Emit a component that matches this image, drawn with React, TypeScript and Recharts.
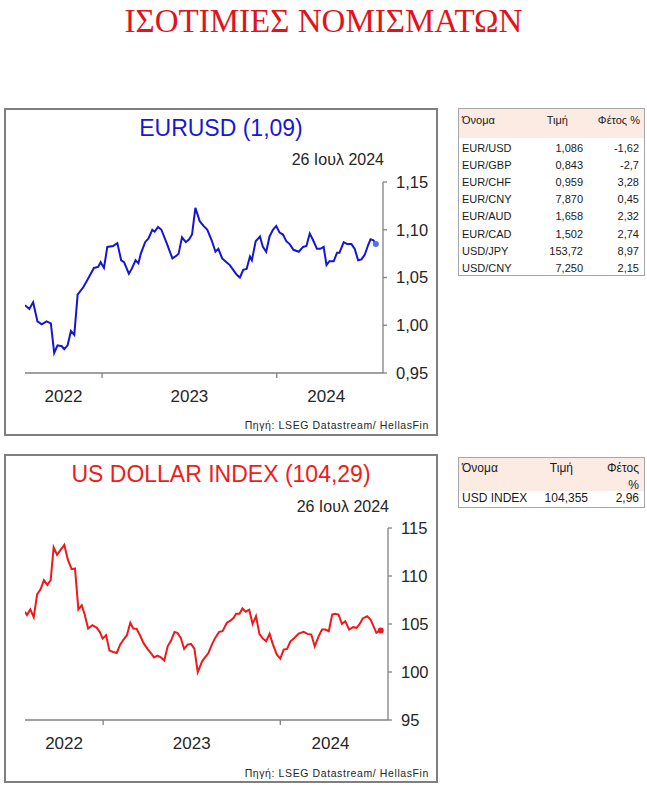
import React from "react";
import { LineChart, Line, XAxis, YAxis, ReferenceDot } from "recharts";

// EUR/USD, weekly-ish readings
const eurDates = [
  "2022-07-24", "2022-08-02", "2022-08-10", "2022-08-19", "2022-08-28", "2022-09-07", "2022-09-16", "2022-09-23",
  "2022-09-30", "2022-10-09", "2022-10-14", "2022-10-21", "2022-10-28", "2022-11-04", "2022-11-11", "2022-11-23",
  "2022-12-03", "2022-12-15", "2022-12-24", "2022-12-29", "2023-01-05", "2023-01-12", "2023-01-24", "2023-02-02",
  "2023-02-10", "2023-02-16", "2023-02-26", "2023-03-04", "2023-03-12", "2023-03-18", "2023-03-23", "2023-04-01",
  "2023-04-08", "2023-04-16", "2023-04-21", "2023-04-28", "2023-05-05", "2023-05-16", "2023-05-28", "2023-06-06",
  "2023-06-10", "2023-06-17", "2023-06-25", "2023-07-02", "2023-07-08", "2023-07-15", "2023-07-24", "2023-08-01",
  "2023-08-09", "2023-08-18", "2023-08-26", "2023-09-01", "2023-09-09", "2023-09-18", "2023-09-25", "2023-10-02",
  "2023-10-09", "2023-10-16", "2023-10-23", "2023-10-30", "2023-11-06", "2023-11-10", "2023-11-18", "2023-11-27",
  "2023-12-03", "2023-12-10", "2023-12-17", "2023-12-24", "2023-12-31", "2024-01-07", "2024-01-14", "2024-01-21",
  "2024-01-28", "2024-02-05", "2024-02-16", "2024-02-25", "2024-03-03", "2024-03-10", "2024-03-17", "2024-03-25",
  "2024-04-01", "2024-04-08", "2024-04-14", "2024-04-20", "2024-04-29", "2024-05-06", "2024-05-11", "2024-05-20",
  "2024-05-27", "2024-06-05", "2024-06-12", "2024-06-19", "2024-06-26", "2024-07-03", "2024-07-10", "2024-07-15",
  "2024-07-21", "2024-07-26",
];
const eurValues = [
  1.021, 1.017, 1.024, 1.004, 1.001, 1.004, 1.002, 0.971,
  0.979, 0.978, 0.975, 0.979, 0.994, 0.99, 1.032, 1.04,
  1.049, 1.06, 1.061, 1.066, 1.06, 1.082, 1.083, 1.086,
  1.068, 1.066, 1.054, 1.059, 1.068, 1.065, 1.075, 1.087,
  1.091, 1.1, 1.098, 1.103, 1.1, 1.086, 1.07, 1.073,
  1.075, 1.092, 1.087, 1.09, 1.095, 1.123, 1.109, 1.104,
  1.1, 1.089, 1.077, 1.08, 1.07, 1.066, 1.063, 1.058,
  1.053, 1.05, 1.058, 1.059, 1.072, 1.068, 1.088, 1.093,
  1.082, 1.077, 1.093, 1.1, 1.104, 1.097, 1.095, 1.088,
  1.085, 1.079, 1.077, 1.082, 1.083, 1.096, 1.089, 1.08,
  1.08, 1.082, 1.063, 1.067, 1.067, 1.076, 1.076, 1.087,
  1.085, 1.085, 1.08, 1.068, 1.069, 1.074, 1.084, 1.09,
  1.089, 1.085,
];

// US dollar index
const dxyDates = [
  "2022-07-24", "2022-07-28", "2022-08-04", "2022-08-11", "2022-08-18", "2022-08-25", "2022-09-01", "2022-09-08",
  "2022-09-15", "2022-09-21", "2022-09-28", "2022-10-05", "2022-10-13", "2022-10-20", "2022-10-28", "2022-11-04",
  "2022-11-11", "2022-11-18", "2022-11-24", "2022-12-01", "2022-12-10", "2022-12-19", "2022-12-25", "2022-12-31",
  "2023-01-07", "2023-01-14", "2023-01-22", "2023-01-29", "2023-02-05", "2023-02-12", "2023-02-19", "2023-02-26",
  "2023-03-04", "2023-03-11", "2023-03-18", "2023-03-25", "2023-04-02", "2023-04-09", "2023-04-16", "2023-04-23",
  "2023-04-30", "2023-05-07", "2023-05-14", "2023-05-21", "2023-05-28", "2023-06-03", "2023-06-10", "2023-06-17",
  "2023-06-24", "2023-07-01", "2023-07-08", "2023-07-15", "2023-07-24", "2023-07-30", "2023-08-06", "2023-08-13",
  "2023-08-20", "2023-08-28", "2023-09-04", "2023-09-13", "2023-09-21", "2023-09-27", "2023-10-02", "2023-10-09",
  "2023-10-15", "2023-10-22", "2023-10-29", "2023-11-05", "2023-11-12", "2023-11-19", "2023-11-26", "2023-12-03",
  "2023-12-10", "2023-12-17", "2023-12-25", "2024-01-01", "2024-01-08", "2024-01-15", "2024-01-22", "2024-01-30",
  "2024-02-08", "2024-02-18", "2024-02-26", "2024-03-05", "2024-03-12", "2024-03-20", "2024-03-27", "2024-04-03",
  "2024-04-10", "2024-04-17", "2024-04-23", "2024-04-30", "2024-05-07", "2024-05-14", "2024-05-22", "2024-05-30",
  "2024-06-06", "2024-06-12", "2024-06-19", "2024-06-28", "2024-07-05", "2024-07-11", "2024-07-17", "2024-07-22",
  "2024-07-26",
];
const dxyValues = [
  106.28, 105.93, 106.52, 105.71, 108.09, 108.61, 109.56, 109.06,
  109.59, 112.98, 112.21, 112.7, 113.25, 111.75, 110.71, 110.78,
  106.52, 106.94, 106.0, 104.53, 104.88, 104.6, 104.18, 103.48,
  103.83, 102.23, 102.09, 101.98, 102.85, 103.38, 103.83, 105.13,
  104.53, 104.5, 103.83, 103.03, 102.43, 101.98, 101.52, 101.7,
  101.52, 101.21, 102.68, 103.27, 104.18, 104.08, 103.55, 102.4,
  102.85, 102.93, 102.43, 99.99, 101.11, 101.52, 101.98, 102.85,
  103.55, 104.18, 104.25, 105.13, 105.37, 105.65, 106.07, 106.07,
  106.62, 106.28, 106.49, 105.02, 105.82, 103.97, 103.48, 103.2,
  103.97, 102.85, 101.81, 101.39, 102.33, 102.4, 103.2, 103.55,
  104.01, 104.18, 103.97, 103.9, 102.68, 103.72, 104.42, 104.42,
  104.25, 105.99, 106.07, 105.99, 105.02, 105.29, 104.42, 104.67,
  104.6, 104.95, 105.58, 105.82, 105.47, 104.77, 104.08, 104.25,
  104.32,
];

const yearLabels = ["2022", "2023", "2024"];
const yearStarts = ["2023-01-01", "2024-01-01"];
const axisEnd = "2024-08-10";
const eurTicks = [0.95, 1.0, 1.05, 1.1, 1.15];
const dxyTicks = [95, 100, 105, 110, 115];

const fxNames = ["EUR/USD", "EUR/GBP", "EUR/CHF", "EUR/CNY", "EUR/AUD", "EUR/CAD", "USD/JPY", "USD/CNY"];
const fxPrices = ["1,086", "0,843", "0,959", "7,870", "1,658", "1,502", "153,72", "7,250"];
const fxYtd = ["-1,62", "-2,7", "3,28", "0,45", "2,32", "2,74", "8,97", "2,15"];

const SANS = '"Liberation Sans", Arial, sans-serif';
const AXIS = "#808080";
const TXT = "#262626";

const toT = (s: string) => Date.parse(s + "T00:00:00Z");

function Panel(props: {
  dates: string[];
  values: number[];
  color: string;
  dotColor: string;
  ticks: number[];
  fmt: (v: number) => string;
  width: number;
  height: number;
  top: number;
  yAxisWidth: number;
}) {
  const { dates, values, color, dotColor, ticks, fmt, width, height, top, yAxisWidth } = props;
  const data = dates.map((d, i) => ({ t: toT(d), v: values[i] }));
  const last = data[data.length - 1];
  const start = data[0].t;
  const bounds = yearStarts.map(toT);
  const edges = [start, ...bounds, last.t];
  const mids = yearLabels.map((_, i) => (edges[i] + edges[i + 1]) / 2);

  const yearTick = (p: any) => {
    const val = p.payload.value;
    const idx = mids.findIndex((m) => Math.abs(m - val) < 1000);
    if (idx >= 0) {
      return (
        <text x={p.x} y={p.y + 29} textAnchor="middle" fontSize={17} fill={TXT} fontFamily={SANS}>
          {yearLabels[idx]}
        </text>
      );
    }
    return <line x1={p.x} x2={p.x} y1={p.y} y2={p.y + 5} stroke={AXIS} strokeWidth={1.3} />;
  };

  return (
    <div style={{ position: "absolute", left: 5, top }}>
      <LineChart width={width} height={height} data={data} margin={{ top: 73, right: 0, bottom: 0, left: 20 }}>
        <XAxis
          type="number"
          dataKey="t"
          domain={[start, toT(axisEnd)]}
          ticks={[...bounds, ...mids]}
          interval={0}
          height={62}
          tickSize={0}
          tickMargin={0}
          tickLine={false}
          axisLine={{ stroke: AXIS, strokeWidth: 1.3 }}
          tick={yearTick}
          allowDataOverflow
        />
        <YAxis
          orientation="right"
          width={yAxisWidth}
          domain={[ticks[0], ticks[ticks.length - 1]]}
          ticks={ticks}
          interval={0}
          tickFormatter={fmt}
          tickSize={4}
          tickMargin={9}
          axisLine={{ stroke: AXIS, strokeWidth: 1.3 }}
          tickLine={{ stroke: AXIS, strokeWidth: 1.3 }}
          tick={{ fontSize: 16.5, fill: TXT, fontFamily: SANS }}
          allowDataOverflow
        />
        <Line dataKey="v" stroke={color} strokeWidth={2} dot={false} isAnimationActive={false} />
        <ReferenceDot x={last.t} y={last.v} r={3} fill={dotColor} stroke="none" />
      </LineChart>
    </div>
  );
}

function Box({ top, height }: { top: number; height: number }) {
  return (
    <div
      style={{
        position: "absolute",
        left: 4,
        top,
        width: 434,
        height,
        border: "2px solid #7f7f7f",
        boxSizing: "border-box",
      }}
    />
  );
}

function Txt(props: { style: React.CSSProperties; children: React.ReactNode }) {
  return <div style={{ position: "absolute", whiteSpace: "nowrap", ...props.style }}>{props.children}</div>;
}

export default function App() {
  const cell: React.CSSProperties = { fontSize: 11, lineHeight: "17px", color: "#1a1a1a" };
  return (
    <div
      style={{
        position: "absolute",
        left: 0,
        top: 0,
        width: 647,
        height: 785,
        background: "#fff",
        fontFamily: SANS,
        overflow: "hidden",
      }}
    >
      <Txt
        style={{
          left: 0,
          top: 0,
          width: 647,
          textAlign: "center",
          fontFamily: '"Liberation Serif", "Times New Roman", serif',
          fontSize: 33,
          lineHeight: "42px",
          color: "#e3131b",
        }}
      >
        ΙΣΟΤΙΜΙΕΣ ΝΟΜΙΣΜΑΤΩΝ
      </Txt>

      {/* EURUSD panel */}
      <Box top={108} height={328} />
      <Txt style={{ left: 5, width: 432, top: 113, textAlign: "center", fontSize: 23, lineHeight: "30px", color: "#1717d6" }}>
        EURUSD (1,09)
      </Txt>
      <Txt style={{ right: 647 - 384, top: 150, fontSize: 16, lineHeight: "19px", color: TXT }}>26 Ιουλ 2024</Txt>
      <Panel
        dates={eurDates}
        values={eurValues}
        color="#1515d4"
        dotColor="#4f6ff0"
        ticks={eurTicks}
        fmt={(v) => v.toFixed(2).replace(".", ",")}
        width={432}
        height={326}
        top={109}
        yAxisWidth={54}
      />
      <Txt style={{ right: 647 - 429, top: 418, fontSize: 10.5, lineHeight: "14px", letterSpacing: 0.6, color: TXT }}>
        Πηγή: LSEG Datastream/ HellasFin
      </Txt>

      {/* FX table */}
      <div
        style={{
          position: "absolute",
          left: 458,
          top: 108,
          width: 187,
          height: 168,
          border: "1px solid #a6a6a6",
          boxSizing: "border-box",
        }}
      >
        <div style={{ position: "absolute", left: 0, top: 0, right: 0, height: 29, background: "#fcebe3" }} />
        <Txt style={{ ...cell, left: 3, top: 3 }}>Όνομα</Txt>
        <Txt style={{ ...cell, right: 76, top: 3 }}>Τιμή</Txt>
        <Txt style={{ ...cell, right: 4, top: 3 }}>Φέτος %</Txt>
        {fxNames.map((n, i) => (
          <React.Fragment key={n}>
            <Txt style={{ ...cell, left: 3, top: 31 + i * 17.1 }}>{n}</Txt>
            <Txt style={{ ...cell, right: 61, top: 31 + i * 17.1 }}>{fxPrices[i]}</Txt>
            <Txt style={{ ...cell, right: 5, top: 31 + i * 17.1 }}>{fxYtd[i]}</Txt>
          </React.Fragment>
        ))}
      </div>

      {/* US dollar index panel */}
      <Box top={454} height={329} />
      <Txt style={{ left: 5, width: 432, top: 459, textAlign: "center", fontSize: 23, lineHeight: "30px", color: "#ee1c1c" }}>
        US DOLLAR INDEX (104,29)
      </Txt>
      <Txt style={{ right: 647 - 389, top: 497, fontSize: 16, lineHeight: "19px", color: TXT }}>26 Ιουλ 2024</Txt>
      <Panel
        dates={dxyDates}
        values={dxyValues}
        color="#f01818"
        dotColor="#f01818"
        ticks={dxyTicks}
        fmt={(v) => String(v)}
        width={432}
        height={327}
        top={455}
        yAxisWidth={49}
      />
      <Txt style={{ right: 647 - 429, top: 766, fontSize: 10.5, lineHeight: "14px", letterSpacing: 0.6, color: TXT }}>
        Πηγή: LSEG Datastream/ HellasFin
      </Txt>

      {/* USD index table */}
      <div
        style={{
          position: "absolute",
          left: 458,
          top: 457,
          width: 187,
          height: 51,
          border: "1px solid #a6a6a6",
          boxSizing: "border-box",
        }}
      >
        <div style={{ position: "absolute", left: 0, top: 0, right: 0, height: 33, background: "#fcebe3" }} />
        <Txt style={{ ...cell, fontSize: 12, left: 3, top: 2 }}>Όνομα</Txt>
        <Txt style={{ ...cell, fontSize: 12, right: 71, top: 2 }}>Τιμή</Txt>
        <Txt style={{ ...cell, fontSize: 12, right: 5, top: 2 }}>Φέτος</Txt>
        <Txt style={{ ...cell, fontSize: 12, right: 5, top: 19 }}>%</Txt>
        <Txt style={{ ...cell, fontSize: 12, left: 3, top: 32 }}>USD INDEX</Txt>
        <Txt style={{ ...cell, fontSize: 12, right: 56, top: 32 }}>104,355</Txt>
        <Txt style={{ ...cell, fontSize: 12, right: 5, top: 32 }}>2,96</Txt>
      </div>
    </div>
  );
}
